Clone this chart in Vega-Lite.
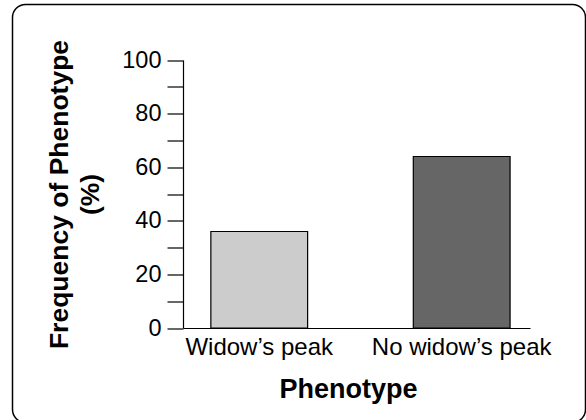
{
  "$schema": "https://vega.github.io/schema/vega-lite/v6.json",
  "autosize": {"type": "none"},
  "padding": {"left": 12.5, "top": 4.5, "right": 0, "bottom": 0},
  "width": 573,
  "height": 418,
  "background": "white",
  "config": {
    "view": {"stroke": "black", "strokeWidth": 1.5, "cornerRadius": 13, "fill": "white"},
    "font": "Liberation Sans"
  },
  "data": {
    "values": [
      {"phenotype": "Widow’s peak", "frequency": 36},
      {"phenotype": "No widow’s peak", "frequency": 64}
    ]
  },
  "mark": {"type": "bar", "stroke": "black", "strokeWidth": 1.2},
  "encoding": {
    "x": {
      "field": "phenotype",
      "type": "nominal",
      "sort": ["Widow’s peak", "No widow’s peak"],
      "scale": {"range": [170.5, 517.5], "paddingInner": 0.522, "paddingOuter": 0.118, "align": 0.583},
      "axis": {
        "title": "Phenotype",
        "titleFont": "Liberation Sans",
        "titleFontSize": 27,
        "titleFontWeight": "bold",
        "titleColor": "black",
        "titlePadding": 17,
        "titleX": 335.5,
        "labelFont": "Liberation Sans",
        "labelFontSize": 24,
        "labelColor": "black",
        "labelAngle": 0,
        "labelPadding": 7,
        "ticks": false,
        "domainColor": "black",
        "domainWidth": 1.2,
        "offset": -94.5
      }
    },
    "y": {
      "field": "frequency",
      "type": "quantitative",
      "scale": {"domain": [0, 100], "range": [323.5, 55.5], "nice": false},
      "axis": {
        "title": ["Frequency of Phenotype", "(%)"],
        "titleFont": "Liberation Sans",
        "titleFontSize": 26.5,
        "titleFontWeight": "bold",
        "titleColor": "black",
        "titleLineHeight": 31,
        "titlePadding": 17,
        "values": [0, 10, 20, 30, 40, 50, 60, 70, 80, 90, 100],
        "labelExpr": "datum.value % 20 === 0 ? datum.label : ''",
        "labelFont": "Liberation Sans",
        "labelFontSize": 23.5,
        "labelColor": "black",
        "labelPadding": 6,
        "tickSize": 16,
        "tickColor": "black",
        "tickWidth": 1.2,
        "domainColor": "black",
        "domainWidth": 1.2,
        "grid": false,
        "offset": -170.5
      }
    },
    "color": {
      "field": "phenotype",
      "type": "nominal",
      "scale": {"domain": ["Widow’s peak", "No widow’s peak"], "range": ["#cccccc", "#666666"]},
      "legend": null
    }
  }
}
